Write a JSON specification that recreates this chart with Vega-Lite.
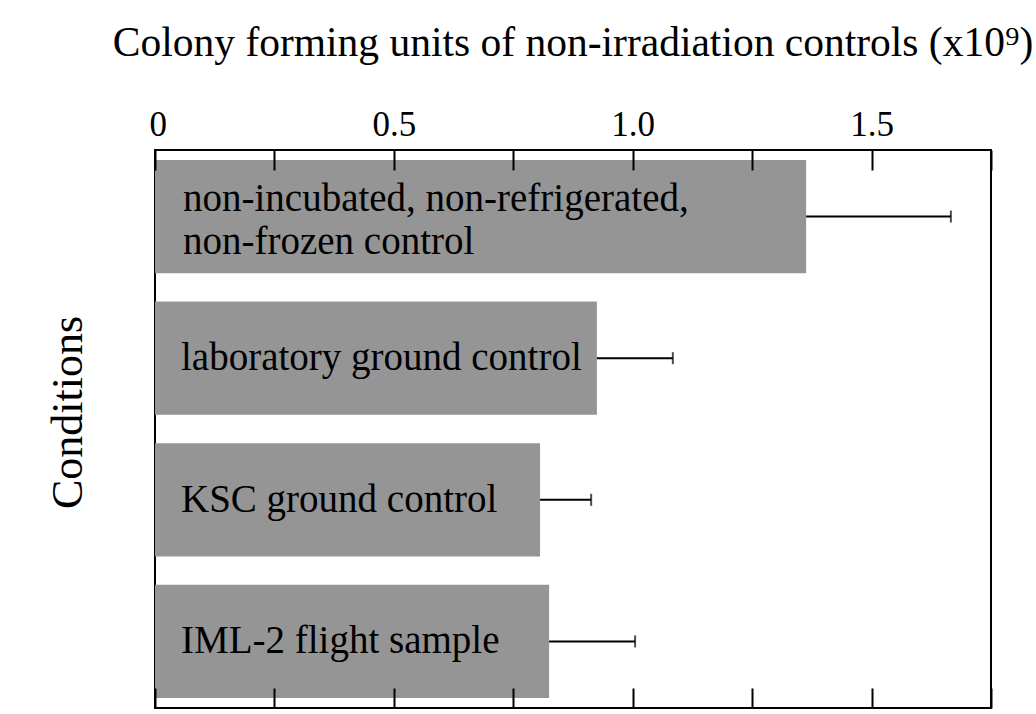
{
  "$schema": "https://vega.github.io/schema/vega-lite/v6.json",
  "autosize": {"type": "none"},
  "padding": {"left": 155, "top": 150, "right": 45, "bottom": 6},
  "width": 836,
  "height": 558,
  "background": "white",
  "config": {
    "view": {"stroke": "black", "strokeWidth": 2},
    "font": "Liberation Serif"
  },
  "title": {
    "text": "Colony forming units of non-irradiation controls  (x10⁹)",
    "font": "Liberation Serif",
    "fontSize": 41.5,
    "fontWeight": "normal",
    "color": "black",
    "anchor": "middle",
    "offset": 43
  },
  "data": {
    "values": [
      {"cond": "c1", "label": "non-incubated, non-refrigerated,\n\u2002non-frozen control", "value": 1.363, "upper": 1.666},
      {"cond": "c2", "label": "laboratory ground control", "value": 0.925, "upper": 1.084},
      {"cond": "c3", "label": "KSC ground control", "value": 0.806, "upper": 0.913},
      {"cond": "c4", "label": "IML-2 flight sample", "value": 0.825, "upper": 1.005}
    ]
  },
  "resolve": {"axis": {"x": "independent"}},
  "layer": [
    {
      "mark": {"type": "bar", "color": "#959595"},
      "encoding": {
        "y": {
          "field": "cond", "type": "nominal", "sort": ["c1", "c2", "c3", "c4"],
          "scale": {"paddingInner": 0.2, "paddingOuter": 0.07},
          "axis": {"labels": false, "ticks": false, "domain": false, "title": "Conditions",
                   "titleFont": "Liberation Serif", "titleFontSize": 44, "titleFontWeight": "normal",
                   "titleColor": "black", "titleAngle": -90, "titleAlign": "center", "titleBaseline": "middle",
                   "titleX": -87, "titleY": 262}
        },
        "x": {
          "field": "value", "type": "quantitative",
          "scale": {"domain": [0, 1.75], "nice": false, "zero": true},
          "axis": {
            "orient": "top", "values": [0, 0.25, 0.5, 0.75, 1, 1.25, 1.5, 1.75],
            "labelExpr": "datum.value == 0 ? '0' : (datum.value * 2 == round(datum.value * 2) && datum.value < 1.75 ? format(datum.value, '.1f') : '')",
            "grid": false, "domain": false, "tickSize": -20, "tickWidth": 2, "tickColor": "black",
            "labelFont": "Liberation Serif", "labelFontSize": 35, "labelColor": "black",
            "labelPadding": 28, "labelFlush": true, "labelFlushOffset": 6, "title": null, "zindex": 1
          }
        }
      }
    },
    {
      "mark": {"type": "rule", "color": "black", "strokeWidth": 2},
      "encoding": {
        "y": {"field": "cond", "type": "nominal", "sort": ["c1", "c2", "c3", "c4"]},
        "x": {
          "field": "value", "type": "quantitative",
          "axis": {
            "orient": "bottom", "values": [0, 0.25, 0.5, 0.75, 1, 1.25, 1.5, 1.75],
            "labels": false, "grid": false, "domain": false, "tickSize": -20, "tickWidth": 2,
            "tickColor": "black", "title": null, "zindex": 1
          }
        },
        "x2": {"field": "upper"}
      }
    },
    {
      "mark": {"type": "tick", "color": "black", "thickness": 2, "size": 12, "orient": "vertical"},
      "encoding": {
        "y": {"field": "cond", "type": "nominal", "sort": ["c1", "c2", "c3", "c4"]},
        "x": {"field": "upper", "type": "quantitative", "axis": null}
      }
    },
    {
      "transform": [{"filter": "datum.cond != 'c1'"}],
      "mark": {"type": "text", "align": "left", "baseline": "middle", "dx": 26, "fontSize": 39,
               "font": "Liberation Serif", "color": "black"},
      "encoding": {
        "y": {"field": "cond", "type": "nominal", "sort": ["c1", "c2", "c3", "c4"]},
        "x": {"datum": 0, "type": "quantitative", "axis": null},
        "text": {"field": "label", "type": "nominal"}
      }
    },
    {
      "transform": [{"filter": "datum.cond == 'c1'"}],
      "mark": {"type": "text", "align": "left", "baseline": "middle", "dx": 28, "dy": -18, "fontSize": 39,
               "font": "Liberation Serif", "color": "black", "lineBreak": "\n", "lineHeight": 43},
      "encoding": {
        "y": {"field": "cond", "type": "nominal", "sort": ["c1", "c2", "c3", "c4"]},
        "x": {"datum": 0, "type": "quantitative", "axis": null},
        "text": {"field": "label", "type": "nominal"}
      }
    }
  ]
}
